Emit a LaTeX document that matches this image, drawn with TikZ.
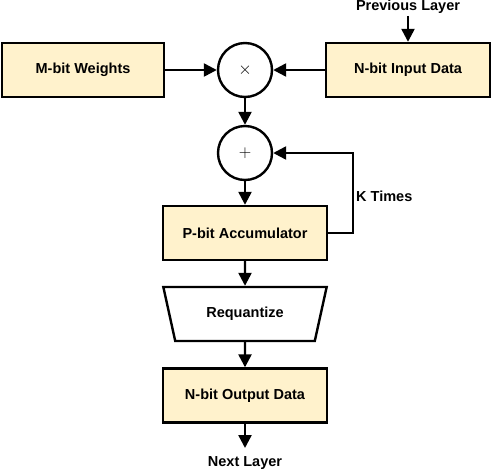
\documentclass[tikz,border=0pt]{standalone}
\usepackage{fontspec}
\setmainfont{Liberation Sans}
\usetikzlibrary{arrows.meta,shapes.geometric}
\definecolor{boxfill}{HTML}{FFF2CC}
\begin{document}
\begin{tikzpicture}[x=1pt,y=-1pt,
  blk/.style={draw,line width=2.4pt,fill=boxfill,minimum width=162pt,minimum height=54pt,inner sep=0pt,font=\bfseries\fontsize{14.5}{16}\selectfont},
  op/.style={draw,circle,line width=2.4pt,fill=white,minimum size=54pt,inner sep=0pt,font=\fontsize{16}{18}\selectfont},
  trap/.style={draw,trapezium,shape border rotate=180,trapezium stretches=true,line width=2.4pt,fill=white,minimum width=164pt,minimum height=54pt,trapezium left angle=64,trapezium right angle=64,inner sep=0pt,font=\bfseries\fontsize{14.5}{16}\selectfont},
  lbl/.style={font=\bfseries\fontsize{14.5}{16}\selectfont,inner sep=0pt},
  conn/.style={line width=2.4pt,-{Triangle[length=13pt,width=13pt]}}]
\useasboundingbox (0,0) rectangle (492,472);
\node[blk] (w) at (83,70) {M-bit Weights};
\node[op] (mul) at (245,70) {$\times$};
\node[blk,minimum width=164pt] (in) at (408,70) {N-bit Input Data};
\node[lbl] (prev) at (408,7) {Previous Layer};
\node[op] (add) at (245,153) {$+$};
\node[blk,minimum width=164pt] (acc) at (245,233) {P-bit Accumulator};
\node[trap] (rq) at (245,314) {Requantize};
\node[blk,minimum width=164pt] (out) at (245,395.5) {N-bit Output Data};
\node[lbl] (next) at (245,463) {Next Layer};
\coordinate (nx) at (245,448);
\node[lbl,anchor=west] (k) at (356,196) {K Times};
\draw[conn] (prev.south) ++(0,2) -- (in.north);
\draw[conn] (w.east) -- (mul.west);
\draw[conn] (in.west) -- (mul.east);
\draw[conn] (mul.south) -- (add.north);
\draw[conn] (add.south) -- (acc.north);
\draw[conn] (acc.east) -- (353,233) -- (353,153) -- (add.east);
\draw[conn] (acc.south) -- (rq.north);
\draw[conn] (rq.south) -- (out.north);
\draw[conn] (out.south) -- (nx);
\end{tikzpicture}
\end{document}
